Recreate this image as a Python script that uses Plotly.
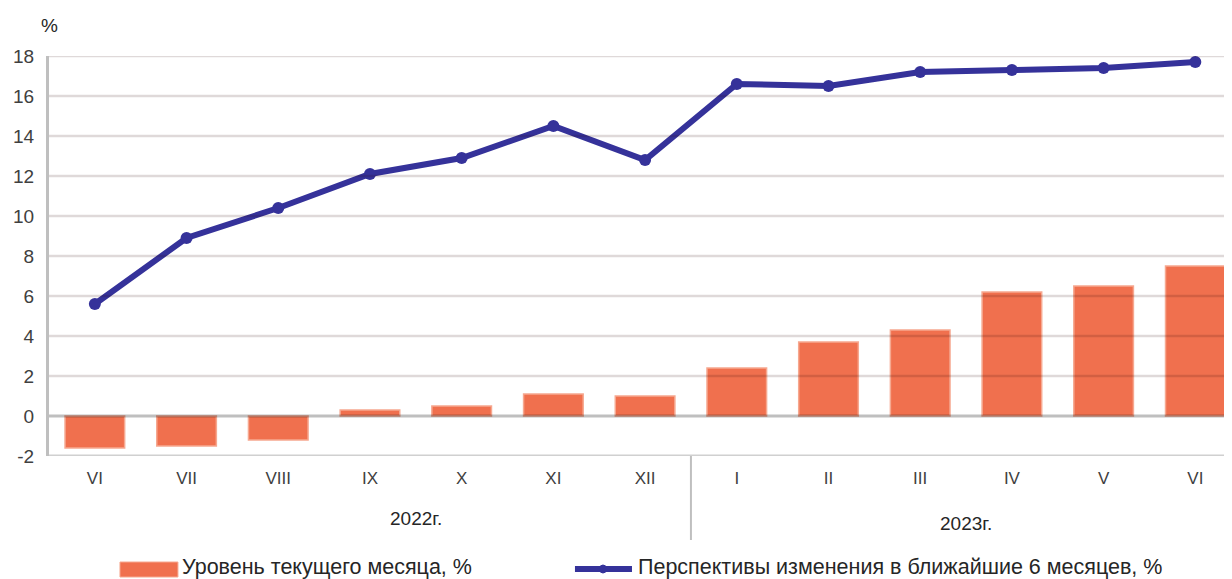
import plotly.graph_objects as go

months = ["VI", "VII", "VIII", "IX", "X", "XI", "XII", "I", "II", "III", "IV", "V", "VI"]
current_level = [-1.6, -1.5, -1.2, 0.3, 0.5, 1.1, 1.0, 2.4, 3.7, 4.3, 6.2, 6.5, 7.5]
outlook_6m = [5.6, 8.9, 10.4, 12.1, 12.9, 14.5, 12.8, 16.6, 16.5, 17.2, 17.3, 17.4, 17.7]
years = ["2022г.", "2023г."]
y_ticks = [-2, 0, 2, 4, 6, 8, 10, 12, 14, 16, 18]

name_bar = "Уровень текущего месяца, %"
name_line = "Перспективы изменения в ближайшие 6 месяцев, %"

x = list(range(len(months)))
FONT = "Liberation Sans, Arial, sans-serif"
BAR_COLOR = "#F0704E"
LINE_COLOR = "#35329A"

fig = go.Figure()
fig.add_trace(go.Bar(
    x=x, y=current_level, name=name_bar, width=0.65,
    marker=dict(color=BAR_COLOR, line=dict(color="#F6A890", width=1.5)),
    showlegend=False,
))
fig.add_trace(go.Scatter(
    x=x, y=outlook_6m, name=name_line, mode="lines+markers",
    line=dict(color=LINE_COLOR, width=6),
    marker=dict(symbol="circle", size=12, color=LINE_COLOR),
    showlegend=False,
))

# page has an 8px body margin: figure origin is at screen (8, 8)
fig.update_layout(
    width=1224, height=571,
    margin=dict(l=41, r=0, t=48, b=123, autoexpand=False),
    plot_bgcolor="white", paper_bgcolor="white",
    font=dict(family=FONT, size=17, color="#404040"),
    showlegend=False,
    xaxis=dict(
        tickmode="array", tickvals=x, ticktext=months, range=[-0.5, 12.4],
        showline=False, showgrid=False, zeroline=False, automargin=False,
        ticks="outside", ticklen=7, tickcolor="rgba(0,0,0,0)",
        tickfont=dict(family=FONT, size=17, color="#404040"),
    ),
    yaxis=dict(
        range=[-2, 18], tickmode="array", tickvals=y_ticks, ticktext=[str(v) for v in y_ticks],
        showline=True, linecolor="#BFBFBF", linewidth=3,
        showgrid=False, zeroline=False,
        ticks="outside", ticklen=8, tickcolor="rgba(0,0,0,0)",
        tickfont=dict(family=FONT, size=19, color="#404040"),
        automargin=False,
    ),
)

# gridlines drawn above bars (semi-transparent, so they darken the bars like the original)
for v in y_ticks:
    if v == -2:
        fig.add_shape(type="line", xref="paper", yref="y", x0=0, x1=1, y0=v, y1=v,
                      line=dict(color="#D0D0D0", width=3), layer="below")
    elif v == 0:
        fig.add_shape(type="line", xref="paper", yref="y", x0=0, x1=1, y0=v, y1=v,
                      line=dict(color="rgba(0,0,0,0.25)", width=3), layer="above")
    else:
        fig.add_shape(type="line", xref="paper", yref="y", x0=0, x1=1, y0=v, y1=v,
                      line=dict(color="rgba(40,0,0,0.15)", width=2.5), layer="above")

# year separator
fig.add_shape(type="line", xref="x", yref="paper", x0=6.5, x1=6.5, y0=0, y1=-0.21,
              line=dict(color="#BFBFBF", width=2))
fig.add_annotation(x=3.5, xref="x", y=-0.155, yref="paper", text=years[0], showarrow=False,
                   font=dict(family=FONT, size=19, color="#262626"), yanchor="middle")
fig.add_annotation(x=9.5, xref="x", y=-0.1675, yref="paper", text=years[1], showarrow=False,
                   font=dict(family=FONT, size=19, color="#262626"), yanchor="middle")
fig.add_annotation(x=0, xref="paper", y=1.0775, yref="paper", text="%", showarrow=False,
                   font=dict(family=FONT, size=19, color="#262626"), xanchor="center", yanchor="middle")

# manual legend
fig.add_shape(type="rect", xref="paper", yref="paper", x0=0.06, x1=0.109, y0=-0.3025, y1=-0.265,
              fillcolor=BAR_COLOR, line=dict(color="#F6A890", width=1))
fig.add_annotation(x=0.1107, xref="paper", y=-0.2775, yref="paper", text=name_bar, showarrow=False,
                   font=dict(family=FONT, size=21.5, color="#262626"), xanchor="left", yanchor="middle")
fig.add_shape(type="line", xref="paper", yref="paper", x0=0.4446, x1=0.4928, y0=-0.2825, y1=-0.2825,
              line=dict(color=LINE_COLOR, width=6))
fig.add_shape(type="circle", xref="paper", yref="paper", x0=0.4653, x1=0.4713, y0=-0.2925, y1=-0.2725,
              fillcolor=LINE_COLOR, line=dict(color=LINE_COLOR, width=1))
fig.add_annotation(x=0.4962, xref="paper", y=-0.2775, yref="paper", text=name_line, showarrow=False,
                   font=dict(family=FONT, size=21.5, color="#262626"), xanchor="left", yanchor="middle")

fig.write_html("out.html")
